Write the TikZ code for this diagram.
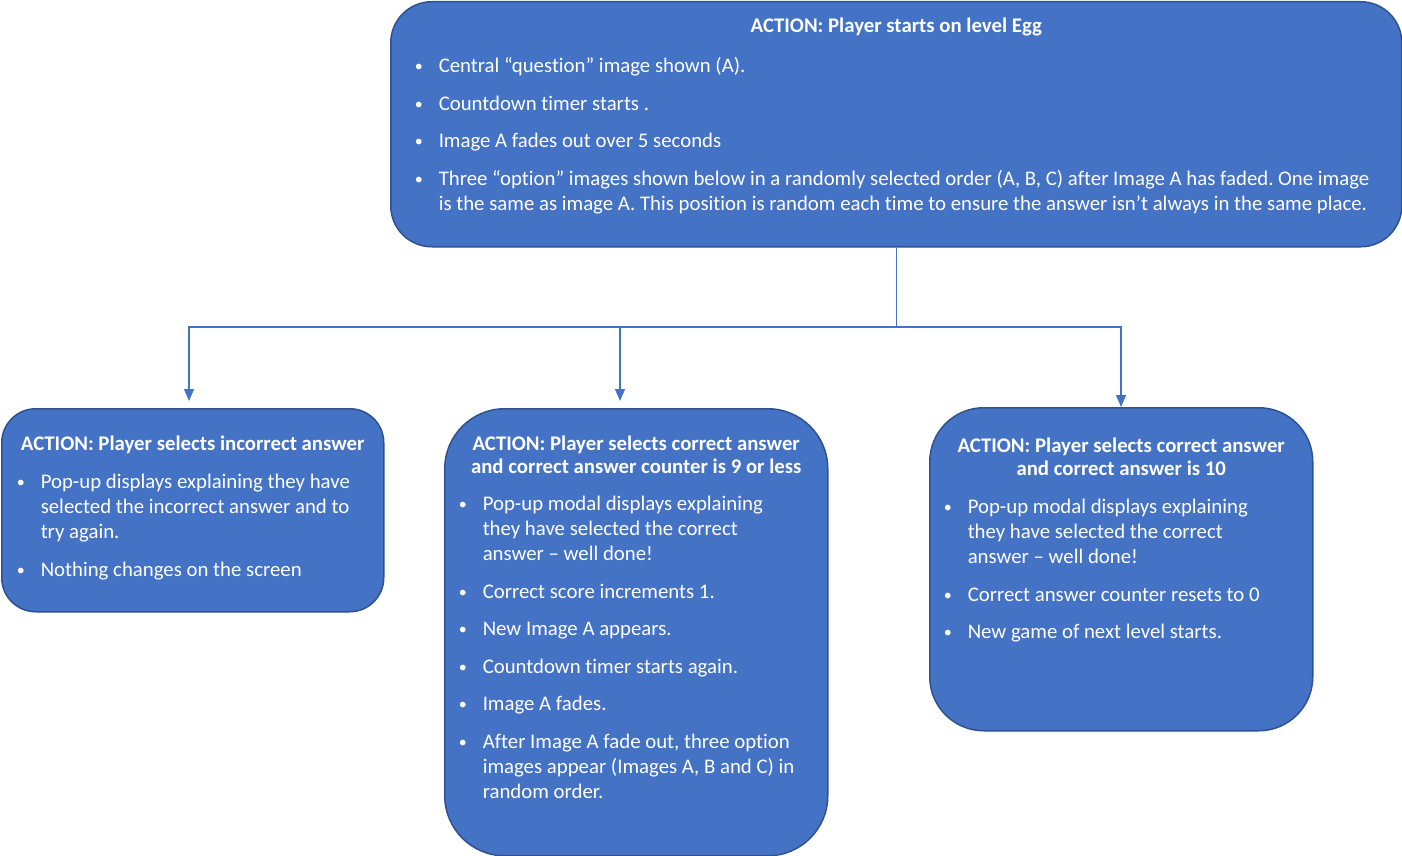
\documentclass[tikz,border=0pt]{standalone}
\usepackage{fontspec}
\setmainfont{Carlito}[Ligatures=NoCommon]
\usepackage{enumitem}
\usetikzlibrary{arrows.meta,positioning}

\definecolor{boxfill}{HTML}{4472C4}
\definecolor{boxline}{HTML}{2F528F}

\setlist[itemize]{label=\makebox[0pt]{\raisebox{1pt}{\fontsize{16}{16}\selectfont\textbullet}},
  leftmargin=20pt, labelsep=20pt, labelwidth=0pt, align=left,
  topsep=13pt, itemsep=12.5pt, parsep=0pt, partopsep=0pt}
\frenchspacing

% title line of a box: #1 = baseline below the top, #2 = text
\newcommand{\actiontitle}[2]{{\centering\leftskip=-15pt plus 1fil\rightskip=-15pt plus 1fil
  \bfseries\fontsize{20.8}{23}\selectfont\rule{0pt}{#1}#2\par}}

\begin{document}
\begin{tikzpicture}[x=1pt, y=-1pt,
    actionbox/.style={draw=boxline, line width=1.5pt, fill=boxfill, text=white,
      inner sep=0pt, anchor=north west, font=\fontsize{20.8}{25}\selectfont},
    link/.style={draw=boxfill, line width=1.2pt},
    tip/.style={-{Triangle[width=10pt,length=12pt]}}]
    \useasboundingbox (0,0) rectangle (1402,856);

    % Start
    \node[actionbox, rounded corners=41pt, inner xsep=28pt] (start) at (390,1) {%
      \begin{minipage}[t][245pt][t]{955pt}
        \actiontitle{31pt}{ACTION: Player starts on level Egg}
        \raggedright
        \begin{itemize}[topsep=15pt]
          \item Central “question” image shown (A).
          \item Countdown timer starts .
          \item Image A fades out over 5 seconds
          \item Three “option” images shown below in a randomly selected order (A, B, C) after Image A has faded. One image\newline
            is the same as image A. This position is random each time to ensure the answer isn’t always in the same place.
        \end{itemize}
      \end{minipage}};

    % Incorrect answer
    \node[actionbox, rounded corners=34pt, inner xsep=19pt] (wrong) at (1,408) {%
      \begin{minipage}[t][203pt][t]{344pt}
        \actiontitle{42pt}{ACTION: Player selects incorrect answer}
        \raggedright
        \begin{itemize}
          \item Pop-up displays explaining they have\newline
            selected the incorrect answer and to\newline try again.
          \item Nothing changes on the screen
        \end{itemize}
      \end{minipage}};

    % Correct answer, counter 9 or less
    \node[actionbox, rounded corners=60pt, inner xsep=18pt] (correct) at (444,408) {%
      \begin{minipage}[t][447pt][t]{347pt}
        \actiontitle{42pt}{ACTION: Player selects correct answer\\
          and correct answer counter is 9 or less}
        \raggedright
        \begin{itemize}[topsep=12pt]
          \item Pop-up modal displays explaining\newline
            they have selected the correct\newline answer – well done!
          \item Correct score increments 1.
          \item New Image A appears.
          \item Countdown timer starts again.
          \item Image A fades.
          \item After Image A fade out, three option\newline
            images appear (Images A, B and C) in\newline random order.
        \end{itemize}
      \end{minipage}};

    % Correct answer, counter 10
    \node[actionbox, rounded corners=54pt, inner xsep=18pt] (levelup) at (929,407) {%
      \begin{minipage}[t][323pt][t]{347pt}
        \actiontitle{45pt}{ACTION: Player selects correct answer\\
          and correct answer is 10}
        \raggedright
        \begin{itemize}
          \item Pop-up modal displays explaining\newline
            they have selected the correct\newline answer – well done!
          \item Correct answer counter resets to 0
          \item New game of next level starts.
        \end{itemize}
      \end{minipage}};

    % Connectors
    \coordinate (fork) at (0,327);
    \coordinate (wrongin) at (189,401);
    \coordinate (correctin) at (620,401);
    \coordinate (levelupin) at (1121,407);
    \draw[link] (start.south) -- (start.south |- fork);
    \draw[link, tip] (start.south |- fork) -| (wrongin);
    \draw[link, tip] (start.south |- fork) -| (correctin);
    \draw[link, tip] (start.south |- fork) -| (levelupin);
\end{tikzpicture}
\end{document}
